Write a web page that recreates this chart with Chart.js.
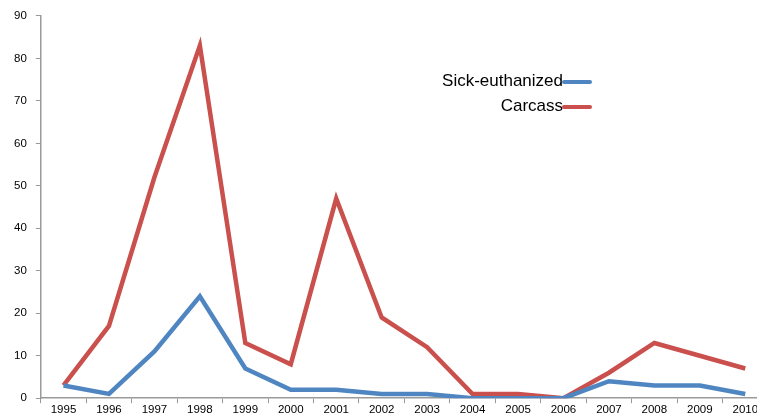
<!DOCTYPE html>
<html>
<head>
<meta charset="utf-8">
<script src="https://cdn.jsdelivr.net/npm/chart.js@4/dist/chart.umd.min.js"></script>
<style>
  html, body { margin: 0; padding: 0; background: #fff; overflow: hidden; }
  #wrap { width: 768px; height: 418px; position: relative; }
</style>
</head>
<body>
<div id="wrap"><canvas id="chart"></canvas></div>
<script>
// values
const years = ["1995", "1996", "1997", "1998", "1999", "2000", "2001", "2002",
  "2003", "2004", "2005", "2006", "2007", "2008", "2009", "2010"];
const sickEuthanized = [3, 1, 11, 24, 7, 2, 2, 1, 1, 0, 0, 0, 4, 3, 3, 1];
const carcass = [3, 17, 52, 83, 13, 8, 47, 19, 12, 1, 1, 0, 6, 13, 10, 7];

const blue = "#4f86c2";
const red = "#c9504c";
const axisGray = "#9a9a9a";
const tickFont = { family: "'Liberation Sans', Arial, sans-serif", size: 11.5 };

// legend drawn as text followed by a short line, like the original
const sideLegend = {
  id: "sideLegend",
  afterDraw: (chart) => {
    const ctx = chart.ctx;
    const right = 563;
    const rows = [81, 106];
    ctx.save();
    ctx.font = "17px 'Liberation Sans', Arial, sans-serif";
    ctx.textAlign = "right";
    ctx.textBaseline = "middle";
    chart.data.datasets.forEach((ds, i) => {
      ctx.fillStyle = "#000";
      ctx.fillText(ds.label, right, rows[i]);
      ctx.strokeStyle = ds.borderColor;
      ctx.lineWidth = 4;
      ctx.lineCap = "round";
      ctx.beginPath();
      ctx.moveTo(right + 1, rows[i] + 1);
      ctx.lineTo(right + 27, rows[i] + 1);
      ctx.stroke();
    });
    ctx.restore();
  },
};

new Chart(document.getElementById("chart"), {
  type: "line",
  data: {
    labels: years,
    datasets: [
      {
        label: "Sick-euthanized",
        data: sickEuthanized,
        borderColor: blue,
        backgroundColor: blue,
        borderWidth: 4.5,
        pointRadius: 0,
        tension: 0,
      },
      {
        label: "Carcass",
        data: carcass,
        borderColor: red,
        backgroundColor: red,
        borderWidth: 4.5,
        pointRadius: 0,
        tension: 0,
      },
    ],
  },
  options: {
    responsive: true,
    maintainAspectRatio: false,
    animation: false,
    layout: { padding: { top: 13, left: 5, right: 0, bottom: 1 } },
    plugins: {
      legend: { display: false },
      tooltip: { enabled: false },
    },
    scales: {
      x: {
        offset: true,
        grid: {
          offset: true,
          drawOnChartArea: false,
          color: axisGray,
          tickLength: 5,
        },
        border: { color: axisGray, width: 1.5 },
        ticks: {
          color: "#000",
          font: tickFont,
          maxRotation: 0,
          autoSkip: false,
          padding: 0,
        },
      },
      y: {
        min: 0,
        max: 90,
        ticks: {
          stepSize: 10,
          color: "#000",
          font: tickFont,
          padding: 9,
        },
        grid: {
          drawOnChartArea: false,
          color: axisGray,
          tickLength: 5,
        },
        border: { color: axisGray, width: 1.5 },
      },
    },
  },
  plugins: [sideLegend],
});
</script>
</body>
</html>
